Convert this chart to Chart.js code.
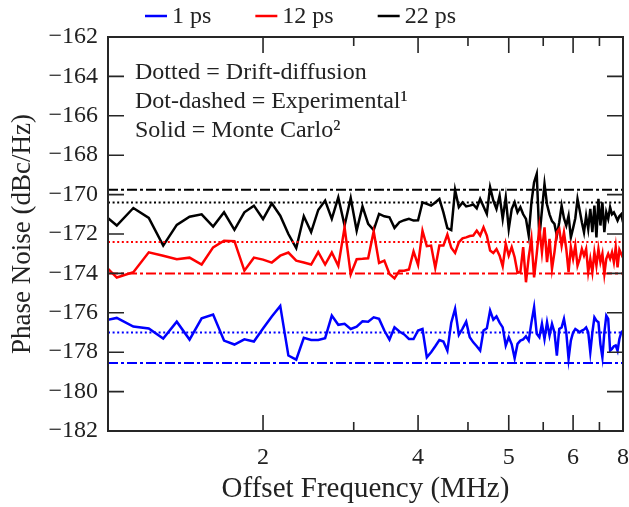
<!DOCTYPE html>
<html>
<head>
<meta charset="utf-8">
<script src="https://cdn.jsdelivr.net/npm/chart.js@4.4.1/dist/chart.umd.min.js"></script>
<style>
  html, body { margin: 0; padding: 0; background: #fff; }
</style>
</head>
<body>
<canvas id="chart" width="629" height="507"></canvas>
<script>
// offset frequency grid (MHz), shared by the three Monte Carlo traces
const freqMHz = [
  0.96, 1.04, 1.12, 1.20, 1.28, 1.36, 1.44, 1.52, 1.60, 1.68,
  1.76, 1.84, 1.92, 2.00, 2.08, 2.16, 2.24, 2.32, 2.40, 2.48,
  2.56, 2.64, 2.72, 2.80, 2.88, 2.96, 3.04, 3.12, 3.20, 3.28,
  3.36, 3.44, 3.52, 3.60, 3.68, 3.76, 3.84, 3.92, 4.00, 4.08,
  4.16, 4.24, 4.32, 4.40, 4.48, 4.56, 4.64, 4.72, 4.80, 4.88,
  4.96, 5.04, 5.12, 5.20, 5.28, 5.36, 5.44, 5.52, 5.60, 5.68,
  5.76, 5.84, 5.92, 6.00, 6.08, 6.16, 6.24, 6.32, 6.40, 6.48,
  6.56, 6.64, 6.72, 6.80, 6.88, 6.96, 7.04, 7.12, 7.20, 7.28,
  7.36, 7.44, 7.52, 7.60, 7.68, 7.76, 7.84, 7.92, 8.00, 8.08,
  8.16, 8.24, 8.32, 8.40, 8.48, 8.56, 8.64, 8.72, 8.80, 8.88,
  8.96, 9.04, 9.12, 9.20, 9.28, 9.36, 9.44, 9.52, 9.60, 9.68,
  9.76, 9.84, 9.92, 10.00
];

// phase noise, Monte Carlo (dBc/Hz)
const pn1ps = [
  -176.45, -176.26, -176.70, -176.80, -177.31, -176.45, -177.36, -176.28, -176.09, -177.41,
  -177.61, -177.35, -177.46, -176.80, -176.19, -175.65, -178.17, -178.38, -177.27, -177.38,
  -177.38, -177.29, -176.14, -176.61, -176.56, -176.82, -176.70, -176.43, -176.45, -176.23,
  -176.31, -176.90, -177.36, -176.74, -176.95, -177.10, -177.33, -177.33, -176.90, -176.82,
  -178.26, -178.00, -177.70, -177.38, -177.46, -177.92, -176.50, -175.80, -177.12, -176.80,
  -176.45, -177.24, -177.50, -177.70, -177.92, -176.90, -176.79, -175.89, -176.35, -176.18,
  -176.50, -176.74, -177.66, -177.24, -177.60, -178.31, -177.58, -177.41, -177.35, -177.19,
  -177.41, -176.50, -175.72, -177.07, -177.24, -176.56, -177.33, -176.48, -177.16, -176.56,
  -176.99, -178.17, -176.82, -176.74, -176.31, -176.99, -178.34, -177.41, -177.00, -176.82,
  -176.90, -176.99, -176.90, -176.85, -176.74, -176.99, -178.00, -177.00, -176.23, -176.40,
  -176.48, -177.60, -178.26, -177.00, -176.14, -176.31, -177.92, -177.83, -177.70, -177.66,
  -177.92, -177.33, -177.00, -176.90
];
const pn12ps = [
  -173.30, -174.21, -173.94, -172.93, -173.10, -173.28, -173.20, -173.55, -172.68, -172.34,
  -172.36, -173.86, -173.20, -173.30, -173.45, -173.10, -172.94, -173.35, -173.45, -173.55,
  -172.92, -173.55, -172.94, -173.62, -171.66, -174.05, -173.28, -173.26, -173.23, -171.86,
  -173.47, -173.35, -174.03, -174.25, -173.86, -173.86, -173.80, -172.88, -173.57, -171.83,
  -172.62, -172.59, -173.72, -172.59, -172.59, -172.03, -172.70, -172.96, -172.42, -172.22,
  -172.17, -172.10, -172.08, -171.83, -172.08, -171.66, -172.08, -172.84, -172.96, -172.76,
  -173.10, -173.64, -172.50, -173.10, -172.67, -173.18, -173.97, -173.94, -172.67, -174.45,
  -173.18, -172.25, -174.20, -173.00, -171.66, -172.93, -171.66, -173.43, -172.25, -173.77,
  -172.93, -171.91, -171.74, -172.59, -171.91, -172.76, -173.94, -172.67, -173.26, -172.59,
  -173.60, -173.26, -172.76, -173.10, -172.76, -173.94, -173.26, -173.94, -172.93, -173.60,
  -172.76, -173.43, -173.00, -174.03, -173.26, -173.00, -173.26, -172.93, -173.43, -172.67,
  -173.70, -172.80, -173.00, -173.20
];
const pn22ps = [
  -170.80, -171.57, -170.68, -171.18, -172.59, -171.54, -171.12, -171.00, -171.62, -170.90,
  -171.79, -170.90, -170.56, -171.24, -170.44, -171.07, -172.00, -172.72, -171.10, -171.90,
  -170.78, -170.30, -171.23, -170.14, -171.57, -170.17, -171.83, -170.60, -171.49, -171.80,
  -170.98, -171.10, -171.15, -171.69, -171.40, -171.30, -171.23, -171.32, -171.30, -170.39,
  -170.47, -170.56, -170.40, -170.22, -170.90, -171.70, -171.80, -169.76, -170.64, -170.40,
  -170.60, -170.56, -170.50, -170.70, -170.22, -170.60, -170.98, -169.63, -170.30, -170.73,
  -170.05, -171.23, -170.14, -171.74, -170.73, -170.39, -170.90, -170.64, -171.00, -171.23,
  -172.08, -170.39, -169.38, -168.95, -172.17, -170.80, -169.46, -170.50, -171.00, -171.35,
  -171.49, -172.08, -171.40, -170.56, -171.20, -171.57, -171.07, -172.17, -171.70, -171.20,
  -170.22, -170.80, -171.40, -171.91, -171.07, -171.74, -170.73, -171.91, -170.56, -172.17,
  -170.22, -171.57, -170.39, -171.91, -170.90, -171.23, -170.64, -171.00, -170.90, -171.10,
  -171.32, -171.10, -171.00, -171.40
];

// flat reference levels, order: 1 ps, 12 ps, 22 ps
const driftDiffusion = [-177.0, -172.4, -170.4];
const experimental = [-178.55, -174.0, -169.75];

const seriesLabels = ['1 ps', '12 ps', '22 ps'];
const seriesColors = ['#0000ff', '#ff0000', '#000000'];
const seriesValues = [pn1ps, pn12ps, pn22ps];

// x axis: ticks on a log scale, printed labels as in the figure
const xTickValues = [2, 4, 6, 8, 10];
const xTickLabels = ['2', '4', '5', '6', '8'];
const xMinorValues = [3, 5, 7, 9];
const yTickValues = [-180, -178, -176, -174, -172, -170, -168, -166, -164];

const notes = ['Dotted = Drift-diffusion', 'Dot-dashed = Experimental\u00b9', 'Solid = Monte Carlo\u00b2'];

const SERIF = '"Liberation Serif", "Times New Roman", serif';
const INK = '#222';

const datasets = [];
seriesLabels.forEach((lab, i) => {
  datasets.push({
    label: lab + ' drift-diffusion',
    data: [{x: 1, y: driftDiffusion[i]}, {x: 10, y: driftDiffusion[i]}],
    borderColor: seriesColors[i], borderWidth: 2, borderDash: [2, 2.6], pointRadius: 0
  });
  datasets.push({
    label: lab + ' experimental',
    data: [{x: 1, y: experimental[i]}, {x: 10, y: experimental[i]}],
    borderColor: seriesColors[i], borderWidth: 2, borderDash: [10, 3, 3, 3], pointRadius: 0
  });
});
seriesLabels.forEach((lab, i) => {
  datasets.push({
    label: lab,
    data: freqMHz.map((f, k) => ({x: f, y: seriesValues[i][k]})),
    borderColor: seriesColors[i], borderWidth: 2.5, pointRadius: 0, tension: 0
  });
});

// box, inward ticks on all sides, text notes and top legend
const framePlugin = {
  id: 'frame',
  afterDraw(chart) {
    const {ctx, chartArea: a, scales: {x, y}} = chart;
    ctx.save();
    ctx.strokeStyle = '#262626';
    ctx.lineWidth = 2;
    ctx.strokeRect(a.left, a.top, a.right - a.left, a.bottom - a.top);

    ctx.lineWidth = 1.6;
    ctx.beginPath();
    const xt = (v, len) => {
      const px = x.getPixelForValue(v);
      ctx.moveTo(px, a.bottom); ctx.lineTo(px, a.bottom - len);
      ctx.moveTo(px, a.top); ctx.lineTo(px, a.top + len);
    };
    xTickValues.slice(0, -1).forEach(v => xt(v, 16));
    xMinorValues.forEach(v => xt(v, 9));
    yTickValues.forEach(v => {
      const py = y.getPixelForValue(v);
      ctx.moveTo(a.left, py); ctx.lineTo(a.left + 16, py);
      ctx.moveTo(a.right, py); ctx.lineTo(a.right - 16, py);
    });
    ctx.stroke();

    ctx.fillStyle = INK;
    ctx.font = '24px ' + SERIF;
    ctx.textBaseline = 'middle';
    ctx.textAlign = 'left';
    notes.forEach((t, i) => ctx.fillText(t, a.left + 27, a.top + 36 + i * 29));

    let lx = 145;
    const ly = 16;
    seriesLabels.forEach((lab, i) => {
      ctx.strokeStyle = seriesColors[i];
      ctx.lineWidth = 2.5;
      ctx.beginPath(); ctx.moveTo(lx, ly); ctx.lineTo(lx + 22, ly); ctx.stroke();
      ctx.fillStyle = INK;
      ctx.fillText(lab, lx + 27, ly + 1);
      lx += 27 + ctx.measureText(lab).width + 44;
    });
    ctx.restore();
  }
};

new Chart(document.getElementById('chart'), {
  type: 'line',
  data: {datasets},
  options: {
    responsive: false,
    animation: false,
    devicePixelRatio: 1,
    layout: {padding: {top: 37, right: 6, left: 0, bottom: 0}},
    plugins: {legend: {display: false}, tooltip: {enabled: false}},
    scales: {
      x: {
        type: 'logarithmic', min: 1, max: 10,
        grid: {display: false, drawTicks: false},
        border: {display: false},
        afterBuildTicks: s => { s.ticks = xTickValues.map(v => ({value: v})); },
        afterFit: s => { s.height = 76; s.paddingLeft = 0; s.paddingRight = 0; },
        ticks: {
          autoSkip: false, maxRotation: 0, padding: 12, color: INK,
          font: {family: SERIF, size: 24},
          callback: v => xTickLabels[xTickValues.indexOf(v)] ?? ''
        },
        title: {display: true, text: 'Offset Frequency (MHz)', color: INK,
                font: {family: SERIF, size: 29}, padding: {top: 0, bottom: 0}}
      },
      y: {
        min: -182, max: -162,
        grid: {display: false, drawTicks: false},
        border: {display: false},
        afterFit: s => { s.width = 108; s.paddingTop = 0; s.paddingBottom = 0; },
        ticks: {
          stepSize: 2, padding: 10, color: INK,
          font: {family: SERIF, size: 24},
          callback: v => String(v).replace('-', '\u2212')
        },
        title: {display: true, text: 'Phase Noise (dBc/Hz)', color: INK,
                font: {family: SERIF, size: 27}, padding: {top: 7, bottom: 0}}
      }
    }
  },
  plugins: [framePlugin]
});
</script>
</body>
</html>
